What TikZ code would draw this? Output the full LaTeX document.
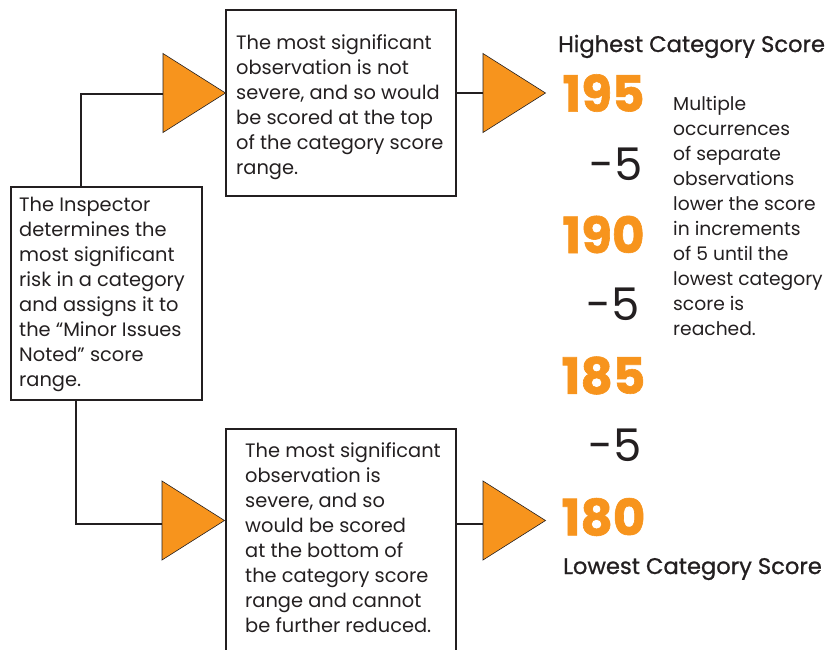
\documentclass[tikz,border=0pt]{standalone}
\usepackage{fontspec}
\setmainfont{Poppins}
\newfontfamily\headfont[FakeBold=0.9]{Poppins}
\definecolor{orng}{HTML}{F7941D}
\definecolor{ink}{HTML}{231F20}
\begin{document}
\begin{tikzpicture}[x=1pt,y=-1pt,
  box/.style={draw=ink,line width=1.8pt,inner sep=0pt},
  tri/.style={fill=orng,draw=ink,line width=0.6pt,line join=miter},
  conn/.style={draw=ink,line width=1.8pt},
  thinconn/.style={draw=ink,line width=1.1pt},
  body/.style={inner sep=0pt,anchor=north west,align=left,text=ink,font=\fontsize{19.4}{25}\selectfont},
  side/.style={inner sep=0pt,anchor=north west,align=left,text=ink,font=\fontsize{18.7}{25}\selectfont},
  num/.style={inner sep=0pt,text=orng,font=\fontsize{50}{50}\selectfont\bfseries\addfontfeature{FakeBold=1.2}},
  minus/.style={inner sep=0pt,anchor=east,text=ink,font=\fontsize{45}{45}\selectfont},
  head/.style={inner sep=0pt,anchor=base west,text=ink,font=\headfont\fontsize{22.6}{22.6}\selectfont}]
\useasboundingbox (0,0) rectangle (831,649);
% boxes
\node[box,minimum width=230pt,minimum height=186pt] (topbox) at (341,103) {};
\node[box,minimum width=191pt,minimum height=213pt] (leftbox) at (106.5,293.5) {};
\node[box,minimum width=230pt,minimum height=240pt] (botbox) at (341,549) {};
% texts
\node[body] (toptext) at (236,34) {The most significant\\observation is not\\severe, and so would\\be scored at the top\\of the category score\\range.};
\node[body] (lefttext) at (19,197) {The Inspector\\determines the\\most significant\\risk in a category\\and assigns it to\\the “Minor Issues\\Noted” score\\range.};
\node[body] (bottext) at (245,442) {The most significant\\observation is\\severe, and so\\would be scored\\at the bottom of\\the category score\\range and cannot\\be further reduced.};
\node[side] (sidetext) at (673,96) {Multiple\\occurrences\\of separate\\observations\\lower the score\\in increments\\of 5 until the\\lowest category\\score is\\reached.};
% triangles
\coordinate (t1) at (163,93);
\coordinate (t2) at (483,93);
\coordinate (t3) at (162,520.5);
\coordinate (t4) at (483,520.5);
\foreach \t in {t1,t2,t3,t4}{
  \draw[tri] (\t) ++(0,-39.5) -- ++(62.5,39.5) -- ++(-62.5,39.5) -- cycle;
}
% connectors
\coordinate (c1) at (163,94);
\coordinate (c3) at (162,524);
\coordinate (c4) at (483,524);
\draw[conn] ([xshift=-25.5pt]leftbox.north) |- (c1);
\draw[conn] ([xshift=-30.5pt]leftbox.south) |- (c3);
\draw[thinconn] (topbox.east |- t2) -- (t2);
\draw[thinconn] (botbox.east |- c4) -- (c4);
% scores
\node[head] (hi) at (558,52) {Highest Category Score};
\node[num] (s195) at (603.5,93) {195};
\node[minus] (m1) at (643,164) {-5};
\node[num] (s190) at (603.5,234.5) {190};
\node[minus] (m2) at (640,304) {-5};
\node[num] (s185) at (603.5,375.5) {185};
\node[minus] (m3) at (642,445) {-5};
\node[num] (s180) at (603.5,517) {180};
\node[head] (lo) at (563,574) {Lowest Category Score};
\end{tikzpicture}
\end{document}
